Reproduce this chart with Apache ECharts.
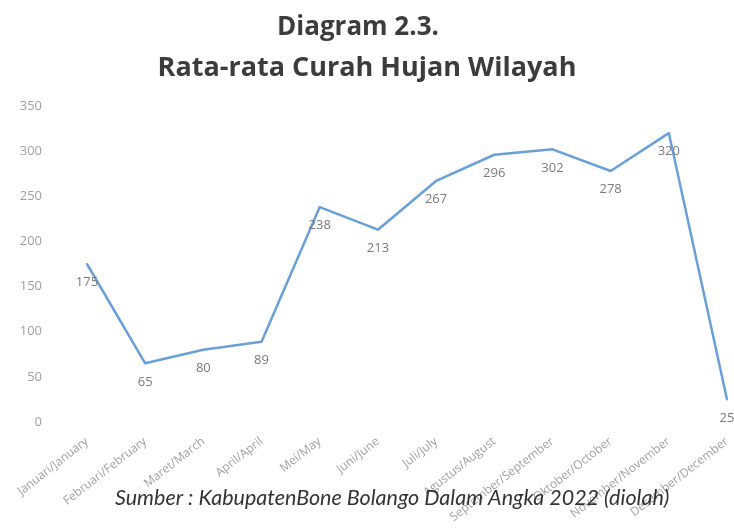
<!DOCTYPE html>
<html>
<head>
<meta charset="utf-8">
<script src="https://cdn.jsdelivr.net/npm/echarts@6/dist/echarts.min.js"></script>
<style>
html,body{margin:0;padding:0;background:#fff;}
#c{width:734px;height:529px;}
</style>
</head>
<body>
<div id="c"></div>
<script>
const categories = ["Januari/January","Februari/February","Maret/March","April/April","Mei/May","Juni/June","Juli/July","Agustus/August","September/September","Oktober/October","November/November","Desember/December"];
const rainfall = [175, 65, 80, 89, 238, 213, 267, 296, 302, 278, 320, 25];
const yTicks = {min: 0, max: 350, interval: 50};
const titleLines = ["Diagram 2.3.", "Rata-rata Curah Hujan Wilayah"];
const sourceText = "Sumber : KabupatenBone Bolango Dalam Angka 2022 (diolah)";

const chart = echarts.init(document.getElementById('c'), null, {renderer: 'canvas'});
chart.setOption({
  backgroundColor: '#fff',
  animation: false,
  title: [
    {text: titleLines[0], left: 272, top: 10, textStyle: {fontFamily: 'Open Sans', fontWeight: 'bold', fontSize: 26, color: '#3c3c3c'}},
    {text: titleLines[1], left: 'center', top: 50, textStyle: {fontFamily: 'Open Sans', fontWeight: 'bold', fontSize: 27, color: '#3c3c3c'}}
  ],
  graphic: [{
    type: 'text', left: 115, top: 487, z: 10,
    style: {text: sourceText, fontFamily: 'Lato', fontStyle: 'italic', fontSize: 21.5, fill: '#333'}
  }],
  grid: {left: 87, right: 7, top: 106, bottom: 107, containLabel: false},
  xAxis: {
    type: 'category', data: categories, boundaryGap: false,
    axisLine: {show: false}, axisTick: {show: false},
    axisLabel: {rotate: 38, fontSize: 12, color: '#a0a0a0', fontFamily: 'Open Sans', margin: 18, interval: 0}
  },
  yAxis: {
    type: 'value', min: yTicks.min, max: yTicks.max, interval: yTicks.interval,
    axisLine: {show: false}, axisTick: {show: false}, splitLine: {show: false},
    axisLabel: {fontSize: 13, color: '#a0a0a0', fontFamily: 'Open Sans', margin: 45}
  },
  series: [{
    type: 'line', data: rainfall, showSymbol: true, symbol: 'circle', symbolSize: 2,
    itemStyle: {color: '#6a9fd8'},
    lineStyle: {color: '#6a9fd8', width: 2.5},
    label: {show: true, position: 'bottom', distance: 11, fontSize: 13, color: '#7a7a7a', fontFamily: 'Open Sans'},
    labelLayout: {hideOverlap: false}
  }]
});
</script>
</body>
</html>
